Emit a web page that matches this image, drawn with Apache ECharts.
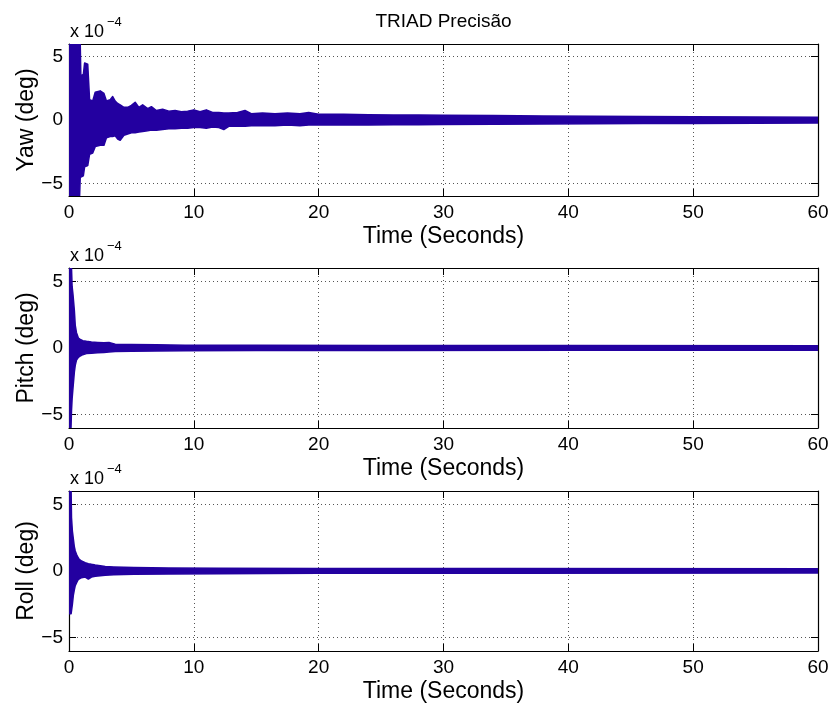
<!DOCTYPE html>
<html>
<head>
<meta charset="utf-8">
<title>TRIAD Precisão</title>
<script src="https://cdn.jsdelivr.net/npm/echarts@6/dist/echarts.min.js"></script>
<style>
  html, body { margin: 0; padding: 0; background: #fff; }
  #chart { width: 833px; height: 704px; }
</style>
</head>
<body>
<div id="chart"></div>
<script>
// Attitude error envelopes, in units of 1e-4 deg, against time in seconds.
const timeTicks = [0, 10, 20, 30, 40, 50, 60];
const valueTicks = [-5, 0, 5];

const yawTime  = [0, 0.85, 0.9, 0.95, 1.15, 1.25, 1.5, 1.65, 1.9, 2.1, 2.5, 2.8, 3.0, 3.3, 3.5, 3.7, 3.9, 4.1, 4.4, 4.7, 5.0, 5.3, 5.6, 5.9, 6.3, 6.6, 7.0, 7.5, 8.0, 8.5, 9.0, 9.5, 10.0, 10.5, 11.0, 11.5, 12.0, 12.4, 12.8, 13.5, 14.1, 14.6, 15.5, 16.5, 17.5, 18.5, 19.2, 20, 22, 24, 26, 28, 30, 34, 38, 42, 46, 50, 55, 60];
const yawUpper = [6, 6, 6, 3.5, 3.6, 4.5, 4.4, 1.6, 1.5, 2.2, 2.3, 2.1, 1.5, 1.6, 1.85, 1.5, 1.3, 1.2, 1.0, 1.0, 1.15, 1.4, 1.0, 1.2, 0.9, 1.05, 0.75, 0.85, 0.7, 0.75, 0.65, 0.7, 0.8, 0.65, 0.8, 0.6, 0.6, 0.55, 0.55, 0.6, 0.75, 0.5, 0.55, 0.5, 0.55, 0.5, 0.6, 0.45, 0.45, 0.42, 0.4, 0.4, 0.38, 0.35, 0.32, 0.3, 0.28, 0.26, 0.24, 0.22];
const yawLower = [-6, -6, -4.5, -4.5, -4.4, -3.7, -3.6, -2.7, -2.6, -2.1, -2.0, -2.0, -1.4, -1.3, -1.3, -1.25, -1.5, -1.6, -1.2, -1.1, -1.0, -1.0, -0.95, -0.9, -0.85, -0.8, -0.8, -0.75, -0.7, -0.7, -0.65, -0.65, -0.6, -0.6, -0.65, -0.55, -0.6, -0.75, -0.5, -0.5, -0.5, -0.45, -0.45, -0.45, -0.4, -0.45, -0.4, -0.4, -0.4, -0.4, -0.38, -0.38, -0.36, -0.34, -0.32, -0.3, -0.28, -0.27, -0.25, -0.24];

const pitchTime  = [0, 0.16, 0.2, 0.25, 0.32, 0.43, 0.5, 0.6, 0.75, 0.9, 1.1, 1.4, 1.8, 2.3, 2.8, 3.2, 3.7, 5, 7, 9.3, 15, 25, 40, 60];
const pitchUpper = [6, 6, 6, 4.6, 4.0, 2.8, 1.7, 1.15, 0.75, 0.65, 0.55, 0.5, 0.45, 0.42, 0.4, 0.42, 0.28, 0.27, 0.24, 0.2, 0.2, 0.19, 0.18, 0.17];
const pitchLower = [-6, -6, -4.7, -3.8, -3.0, -1.8, -1.3, -0.9, -0.7, -0.6, -0.5, -0.42, -0.4, -0.36, -0.33, -0.3, -0.27, -0.25, -0.22, -0.2, -0.19, -0.18, -0.17, -0.16];

const rollTime  = [0, 0.17, 0.2, 0.27, 0.35, 0.43, 0.5, 0.6, 0.7, 0.8, 1.0, 1.3, 1.55, 1.8, 2.1, 2.5, 2.9, 3.6, 5.2, 8, 12, 20, 35, 60];
const rollUpper = [6, 6, 4.0, 3.0, 2.4, 1.8, 1.5, 1.25, 1.05, 0.9, 0.75, 0.62, 0.55, 0.5, 0.45, 0.4, 0.33, 0.3, 0.26, 0.22, 0.2, 0.19, 0.18, 0.17];
const rollLower = [-3.2, -3.2, -3.0, -2.5, -1.8, -1.4, -1.1, -0.9, -0.7, -0.6, -0.5, -0.45, -0.6, -0.45, -0.4, -0.35, -0.32, -0.28, -0.25, -0.22, -0.2, -0.17, -0.16, -0.15];

const panelNames = ['Yaw (deg)', 'Pitch (deg)', 'Roll (deg)'];
const chartTitle = 'TRIAD Precisão';
const xName = 'Time (Seconds)';

const LINE_COLOR = '#2300a0';
const FONT = "'Liberation Sans', Arial, Helvetica, sans-serif";
const panels = [
  { time: yawTime, upper: yawUpper, lower: yawLower, top: 44, height: 152 },
  { time: pitchTime, upper: pitchUpper, lower: pitchLower, top: 268, height: 160 },
  { time: rollTime, upper: rollUpper, lower: rollLower, top: 491, height: 160 }
];
const LEFT = 69, RIGHT = 15;

const dotted = { color: '#555', width: 1, type: [1, 3] };
const minusFmt = v => (v < 0 ? '\u2212' + (-v) : String(v));

const grid = [], xAxis = [], yAxis = [], series = [], graphic = [];

panels.forEach((p, i) => {
  grid.push({ left: LEFT, right: RIGHT, top: p.top, height: p.height, containLabel: false });

  const xBase = {
    type: 'value', gridIndex: i, min: timeTicks[0], max: timeTicks[timeTicks.length - 1], interval: 10,
    axisLine: { onZero: false, lineStyle: { color: '#000', width: 1.2 } },
    axisTick: { inside: true, length: 7, lineStyle: { color: '#000', width: 1 } }
  };
  xAxis.push(Object.assign({}, xBase, {
    position: 'bottom',
    axisLabel: { color: '#000', fontSize: 19, fontFamily: FONT, margin: 7 },
    splitLine: { show: true, lineStyle: dotted },
    name: xName, nameLocation: 'middle', nameGap: 29, nameMoveOverlap: false,
    nameTextStyle: { color: '#000', fontSize: 23, fontFamily: FONT }
  }));
  xAxis.push(Object.assign({}, xBase, {
    position: 'top', axisLabel: { show: false }, splitLine: { show: false }
  }));

  const yBase = {
    type: 'value', gridIndex: i, min: -6, max: 6,
    axisLine: { onZero: false, lineStyle: { color: '#000', width: 1.2 } },
    axisTick: { inside: true, length: 7, customValues: valueTicks, lineStyle: { color: '#000', width: 1 } }
  };
  yAxis.push(Object.assign({}, yBase, {
    position: 'left',
    axisLabel: { color: '#000', fontSize: 19, fontFamily: FONT, margin: 6, customValues: valueTicks, formatter: minusFmt },
    splitLine: { show: true, lineStyle: dotted },
    name: panelNames[i], nameLocation: 'middle', nameGap: 31, nameMoveOverlap: false,
    nameTextStyle: { color: '#000', fontSize: 23, fontFamily: FONT }
  }));
  yAxis.push(Object.assign({}, yBase, {
    position: 'right', axisLabel: { show: false }, splitLine: { show: false }
  }));

  // The fast oscillation fills a solid band between its upper and lower envelope.
  const { time, upper, lower } = p;
  series.push({
    type: 'custom',
    xAxisIndex: 2 * i, yAxisIndex: 2 * i,
    clip: true, silent: true, z: 1,
    data: time.map((t, k) => [t, lower[k], upper[k]]),
    encode: { x: 0, y: [1, 2] },
    renderItem: (params, api) => {
      if (params.dataIndex !== 0) return null;
      const pts = [];
      for (let k = 0; k < time.length; k++) pts.push(api.coord([time[k], upper[k]]));
      for (let k = time.length - 1; k >= 0; k--) pts.push(api.coord([time[k], lower[k]]));
      return {
        type: 'polygon',
        shape: { points: pts },
        style: { fill: LINE_COLOR, stroke: LINE_COLOR, lineWidth: 1.5, lineJoin: 'round' }
      };
    }
  });

  // Axis multiplier, drawn above the top-left corner of each panel.
  graphic.push({
    type: 'text', left: 70, top: p.top - 21,
    style: { text: 'x 10', font: '18px ' + FONT, fill: '#000' }
  });
  graphic.push({
    type: 'text', left: 107, top: p.top - 28,
    style: { text: '\u22124', font: '13px ' + FONT, fill: '#000' }
  });
});

graphic.push({
  type: 'text', x: LEFT + (833 - LEFT - RIGHT) / 2, y: 22,
  style: { text: chartTitle, font: '19px ' + FONT, fill: '#000', align: 'center', verticalAlign: 'middle' }
});

const chart = echarts.init(document.getElementById('chart'), null, { renderer: 'canvas' });
chart.setOption({
  backgroundColor: '#fff',
  animation: false,
  grid, xAxis, yAxis, series, graphic
});
</script>
</body>
</html>
